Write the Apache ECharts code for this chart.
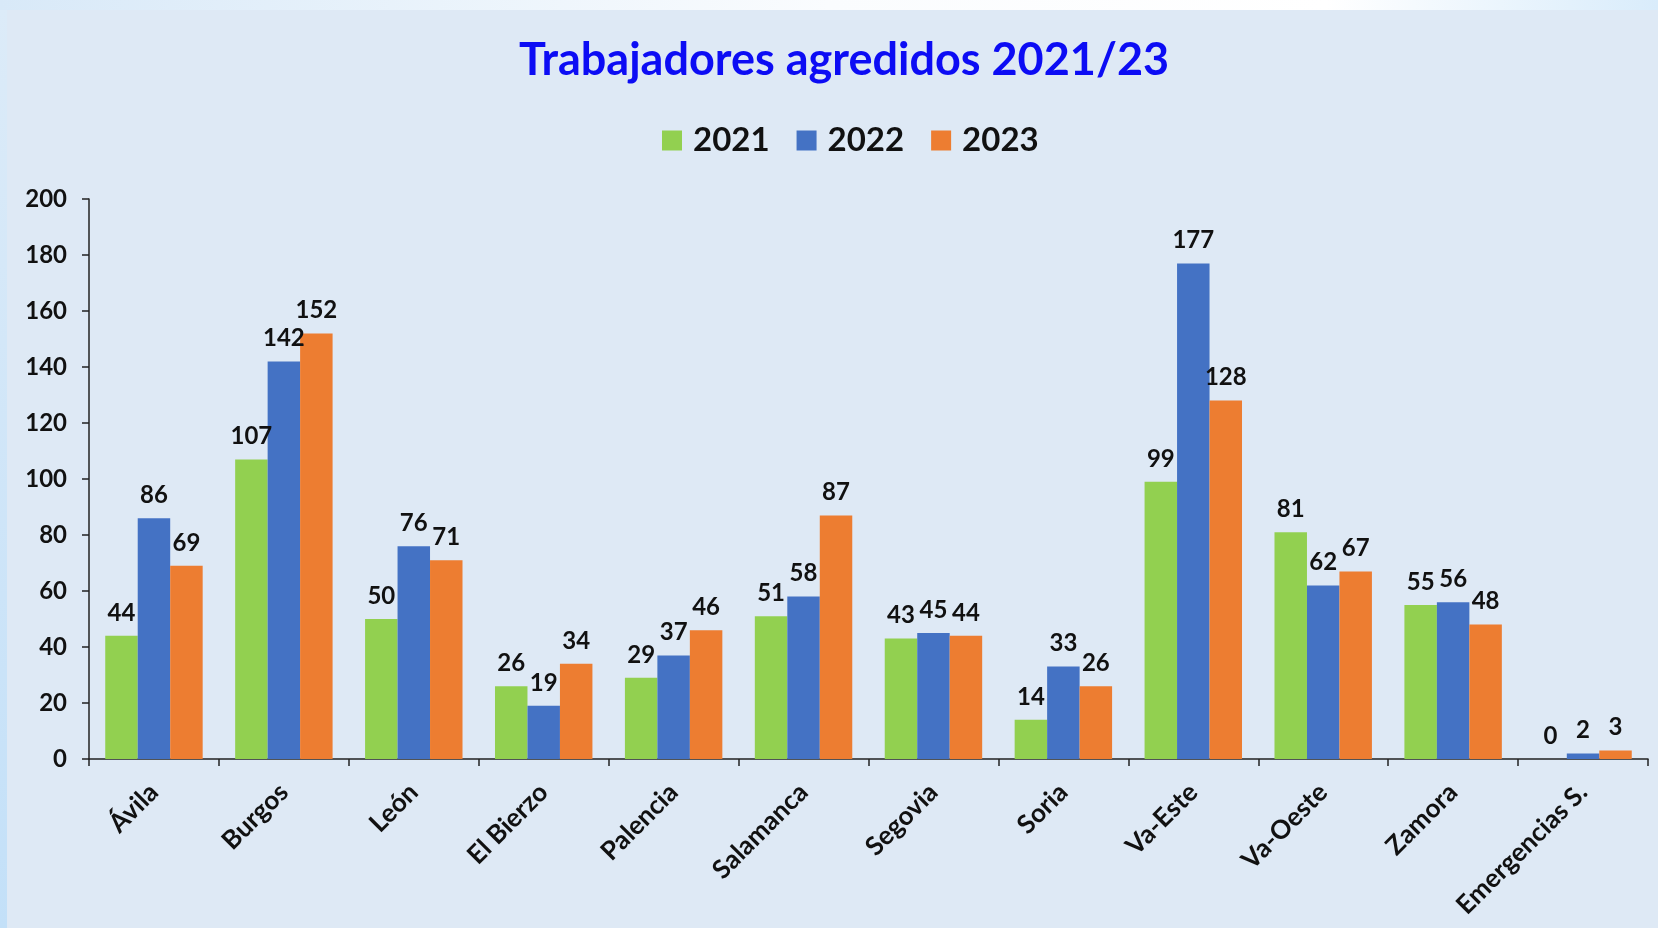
<!DOCTYPE html>
<html>
<head>
<meta charset="utf-8">
<script src="https://cdn.jsdelivr.net/npm/echarts@6/dist/echarts.min.js"></script>
<style>
html,body{margin:0;padding:0;width:1658px;height:928px;overflow:hidden;background:#DEE9F5;}
#chart{width:1658px;height:928px;}
</style>
</head>
<body>
<div id="chart"></div>
<script>
const categories = ['Ávila','Burgos','León','El Bierzo','Palencia','Salamanca','Segovia','Soria','Va-Este','Va-Oeste','Zamora','Emergencias S.'];
const seriesNames = ['2021','2022','2023'];
const values2021 = [44,107,50,26,29,51,43,14,99,81,55,0];
const values2022 = [86,142,76,19,37,58,45,33,177,62,56,2];
const values2023 = [69,152,71,34,46,87,44,26,128,67,48,3];
const colors = ['#92D050','#4472C4','#ED7D31'];
const FONT = 'Lato';

const chart = echarts.init(document.getElementById('chart'), null, {renderer:'canvas'});
const dataSets = [values2021, values2022, values2023];
const series = seriesNames.map((n,i)=>({
  name:n, type:'bar', data:dataSets[i],
  barGap:'0%', barCategoryGap:'25%',
  itemStyle:{color:colors[i]},
  label:{show:true, position:'top', distance:11, color:'#111', fontFamily:FONT, fontWeight:'bold', fontSize:24}
}));
chart.setOption({
  backgroundColor:'#DEE9F5',
  animation:false,
  graphic:[
    {type:'rect', left:0, top:0, shape:{width:1658,height:10}, style:{fill:new echarts.graphic.LinearGradient(0,0,1,0,[{offset:0,color:'#D8E9F8'},{offset:0.5,color:'#FAFCFE'},{offset:0.8,color:'#FFFFFF'},{offset:1,color:'#D9ECFB'}])}, silent:true, z:-1},
    {type:'rect', left:0, top:10, shape:{width:7,height:918}, style:{fill:new echarts.graphic.LinearGradient(0,0,0,1,[{offset:0,color:'#DCEBF8'},{offset:1,color:'#C3E0F8'}])}, silent:true, z:-1}
  ],
  title:{text:'Trabajadores agredidos 2021/23', left:514, top:33,
    textStyle:{color:'#0C0CF4', fontFamily:FONT, fontWeight:'bold', fontSize:45}},
  legend:{data:seriesNames, top:119, left:657, itemWidth:20, itemHeight:20, itemGap:27, icon:'rect',
    textStyle:{color:'#111', fontFamily:FONT, fontWeight:'bold', fontSize:33, padding:[0,0,0,6]}},
  grid:{left:89, right:10, top:199, bottom:169, containLabel:false},
  xAxis:{type:'category', data:categories,
    axisLine:{lineStyle:{color:'#222', width:1.5}},
    axisTick:{show:true, alignWithLabel:false, length:7, lineStyle:{color:'#222', width:1.5}},
    axisLabel:{rotate:45, interval:0, margin:29, color:'#111', fontFamily:FONT, fontWeight:'bold', fontSize:26}},
  yAxis:{type:'value', min:0, max:200, interval:20,
    splitLine:{show:false},
    axisLine:{show:true, lineStyle:{color:'#222', width:1.5}},
    axisTick:{show:true, length:7, lineStyle:{color:'#222', width:1.5}},
    axisLabel:{margin:22, color:'#111', fontFamily:FONT, fontWeight:'bold', fontSize:24}},
  series:series
});
</script>
</body>
</html>
